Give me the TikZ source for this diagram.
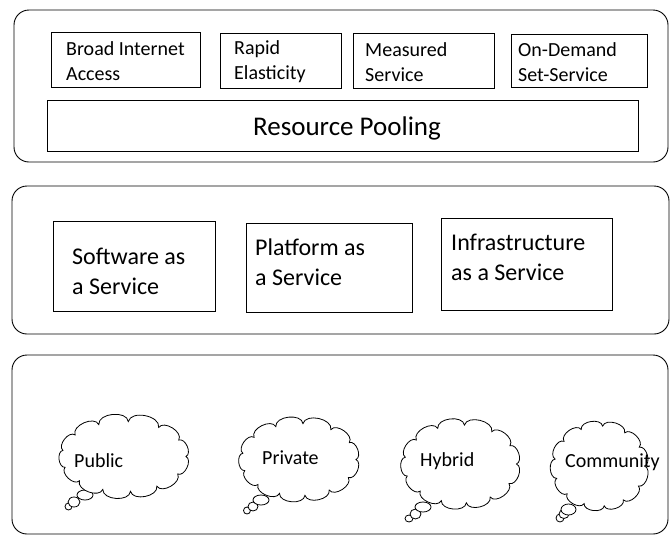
\documentclass[tikz,border=0pt]{standalone}
\usepackage{fontspec}
\setmainfont{Carlito}

\tikzset{
  panel/.style={draw, line width=0.9pt, rounded corners=15pt, inner sep=0pt},
  cell/.style={draw, line width=0.9pt, inner sep=0pt},
  small/.style={font=\fontsize{20}{25}\selectfont, align=left, inner sep=0pt, anchor=west},
  mid/.style={font=\fontsize{24}{30}\selectfont, align=left, inner sep=0pt, anchor=west},
  big/.style={font=\fontsize{27}{32}\selectfont, inner sep=0pt},
  bubble/.style={draw, fill=white, line width=0.8pt},
  cloudtxt/.style={font=\fontsize{20}{24}\selectfont, inner sep=0pt, anchor=west},
}

% puffy cloud: centre (#1,#2), radii #3 and #4 of the ellipse carrying the puff joints
\newcommand\puffcloud[4]{%
  \draw[bubble] ({#1+#3},{#2})
    \foreach \ang in {30,58,84,110,136,162,190,218,246,274,304,332,360}
      { to[bend left=88] ({#1+#3*cos(\ang)},{#2+#4*sin(\ang)}) } -- cycle;}

\begin{document}
\begin{tikzpicture}[x=1pt, y=-1pt]
\useasboundingbox (0,0) rectangle (670,536);

% Characteristics
\draw[panel] (14,10) rectangle (668,162);
\node[cell, minimum width=149pt, minimum height=55pt] (bia) at (125.5,59.5) {};
\node[cell, minimum width=121pt, minimum height=55pt] (re) at (280.5,60.5) {};
\node[cell, minimum width=141pt, minimum height=55pt] (ms) at (423.5,60.5) {};
\node[cell, minimum width=136pt, minimum height=53pt] (od) at (579,60.5) {};
\node[cell, minimum width=591pt, minimum height=51pt] (rp) at (342.5,125.5) {};
\node[small] (biat) at (66,61) {Broad Internet\\Access};
\node[small] (ret) at (234,62) {Rapid\\Elasticity};
\node[small] (mst) at (365,62) {Measured\\Service};
\node[small] (odt) at (518,62) {On-Demand\\Set-Service};
\node[big] (rpt) at (347,128) {Resource Pooling};

% Service models
\draw[panel] (12,186) rectangle (669,334);
\node[cell, minimum width=162pt, minimum height=90pt] (saas) at (134,266) {};
\node[cell, minimum width=166pt, minimum height=89pt] (paas) at (329,267.5) {};
\node[cell, minimum width=171pt, minimum height=92pt] (iaas) at (526.5,264) {};
\node[mid] (saast) at (72,271) {Software as\\a Service};
\node[mid] (paast) at (255,262) {Platform as\\a Service};
\node[mid] (iaast) at (451,257) {Infrastructure\\as a Service};

% Deployment models
\draw[panel] (12,355) rectangle (668,534);

% thought bubbles trailing from each cloud
\draw[bubble] (68.5,506.5) ellipse [x radius=3.5, y radius=3.5];
\draw[bubble] (74,502) ellipse [x radius=6, y radius=5];
\draw[bubble] (85,495) ellipse [x radius=8, y radius=5];
\draw[bubble] (247,510.5) ellipse [x radius=3.5, y radius=3.5];
\draw[bubble] (253,506.5) ellipse [x radius=5, y radius=4.5];
\draw[bubble] (261,500) ellipse [x radius=8, y radius=5];
\draw[bubble] (409,518.5) ellipse [x radius=4, y radius=3.5];
\draw[bubble] (415.5,514) ellipse [x radius=5.5, y radius=5];
\draw[bubble] (423,507) ellipse [x radius=8, y radius=5];
\draw[bubble] (560,518) ellipse [x radius=4, y radius=4];
\draw[bubble] (564,514) ellipse [x radius=5, y radius=4.5];
\draw[bubble] (568.5,509.5) ellipse [x radius=7.5, y radius=5.5];

% cloud bodies
\puffcloud{124}{456.5}{62}{35}
\puffcloud{299}{459.5}{57}{36}
\puffcloud{460.5}{464}{56}{39}
\puffcloud{599.5}{466}{45}{40}

\node[cloudtxt] (pubt) at (74,461) {Public};
\node[cloudtxt] (prit) at (262,458) {Private};
\node[cloudtxt] (hybt) at (420,461) {Hybrid};
\node[cloudtxt] (comt) at (565,462) {Community};
\end{tikzpicture}
\end{document}
